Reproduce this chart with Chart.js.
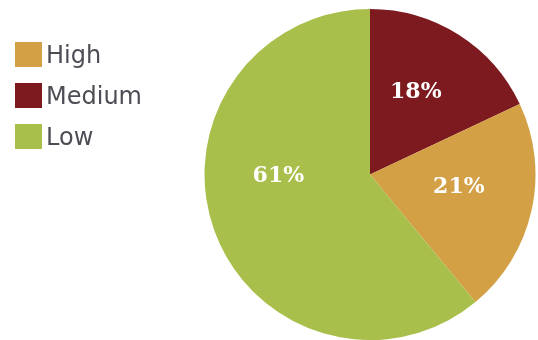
<!DOCTYPE html>
<html>
<head>
<meta charset="utf-8">
<script src="https://cdn.jsdelivr.net/npm/chart.js@4/dist/chart.umd.min.js"></script>
<style>
  html, body { margin: 0; padding: 0; background: #fff; }
  #wrap { position: relative; width: 538px; height: 340px; }
  #legend { position: absolute; left: 15px; top: 42px; font-family: "DejaVu Sans", sans-serif; font-size: 24px; color: #4d4d55; }
  #legend .row { display: flex; align-items: center; height: 25px; margin-bottom: 16px; }
  #legend .box { width: 27px; height: 25px; margin-right: 4px; }
</style>
</head>
<body>
<div id="wrap">
  <canvas id="pie-chart" width="538" height="340"></canvas>
  <div id="legend"></div>
</div>
<script>
// slices go clockwise from 12 o'clock
const categories = ["Medium", "High", "Low"];
const values = [18, 21, 61];
const colors = ["#7c1a1f", "#d3a046", "#a9bf4b"];
// order used in the legend box
const legendOrder = ["High", "Medium", "Low"];

// where a label sits off the middle of its slice
const labelNudge = { Medium: [-3, -5], High: [0, -7], Low: [-6, -29] };

const sliceLabels = {
    id: "sliceLabels",
    afterDatasetsDraw(chart) {
        const ctx = chart.ctx;
        const meta = chart.getDatasetMeta(0);
        ctx.save();
        ctx.font = "bold 22px 'DejaVu Serif', serif";
        ctx.fillStyle = "#ffffff";
        ctx.textAlign = "center";
        ctx.textBaseline = "middle";
        meta.data.forEach((arc, i) => {
            const p = arc.getProps(["x", "y", "startAngle", "endAngle", "outerRadius"], true);
            const mid = (p.startAngle + p.endAngle) / 2;
            const r = p.outerRadius * 0.55;
            const n = labelNudge[categories[i]] || [0, 0];
            const x = p.x + Math.cos(mid) * r + n[0];
            const y = p.y + Math.sin(mid) * r + n[1];
            ctx.fillText(values[i] + "%", x, y);
        });
        ctx.restore();
    }
};

new Chart(document.getElementById("pie-chart"), {
    type: "pie",
    data: {
        labels: categories,
        datasets: [
            {
                data: values,
                backgroundColor: colors,
                borderWidth: 0
            }
        ]
    },
    options: {
        responsive: false,
        animation: false,
        layout: { padding: { left: 204, right: 2, top: 9, bottom: 0 } },
        plugins: {
            legend: { display: false },
            tooltip: { enabled: false }
        }
    },
    plugins: [sliceLabels]
});

// legend built from the same arrays
const legend = document.getElementById("legend");
for (const name of legendOrder) {
    const i = categories.indexOf(name);
    const row = document.createElement("div");
    row.className = "row";
    const box = document.createElement("span");
    box.className = "box";
    box.style.background = colors[i];
    const text = document.createElement("span");
    text.textContent = name;
    row.appendChild(box);
    row.appendChild(text);
    legend.appendChild(row);
}
</script>
</body>
</html>
